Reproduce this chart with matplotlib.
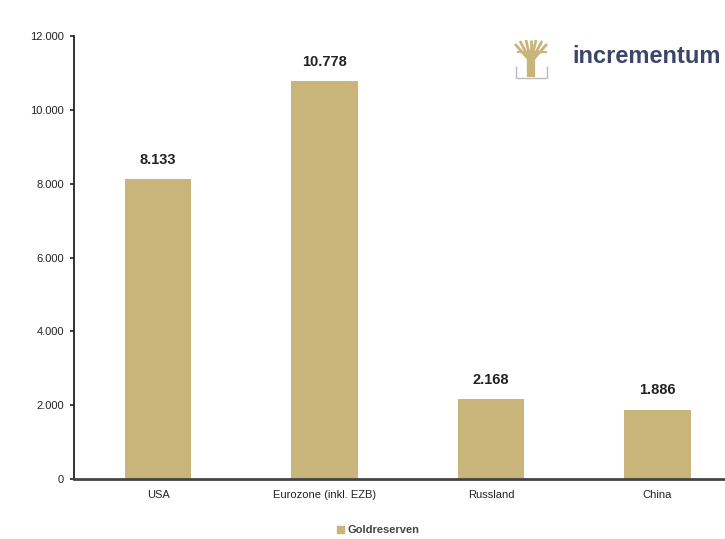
import matplotlib.pyplot as plt
from matplotlib.lines import Line2D
from matplotlib.patches import Patch
from matplotlib.ticker import FuncFormatter

# === Daten ===
laender = ['USA', 'Eurozone (inkl. EZB)', 'Russland', 'China']
goldreserven = [8133, 10778, 2168, 1886]
y_ticks = [0, 2000, 4000, 6000, 8000, 10000, 12000]

gold = '#c9b47a'
plt.rcParams['font.family'] = ['Liberation Sans', 'DejaVu Sans']

fig = plt.figure(figsize=(7.25, 5.39), dpi=100)
ax = fig.add_axes([0.102, 0.111, 0.915, 0.822])

x = range(len(laender))
ax.bar(x, goldreserven, width=0.4, color=gold)

def fmt(v):
    return f'{v:,.0f}'.replace(',', '.')

for xi, v in zip(x, goldreserven):
    ax.text(xi, v + 330, fmt(v), ha='center', va='bottom',
            fontsize=10.5, fontweight='bold', color='#222222')

ax.set_xlim(-0.505, 3.48)
ax.set_ylim(0, 12000)
ax.set_yticks(y_ticks)
ax.yaxis.set_major_formatter(FuncFormatter(lambda v, p: fmt(v)))
ax.set_xticks(list(x))
ax.set_xticklabels(laender)

for s in ['top', 'right']:
    ax.spines[s].set_visible(False)
ax.spines['left'].set_linewidth(1.3)
ax.spines['left'].set_color('#222222')
ax.spines['bottom'].set_linewidth(2)
ax.spines['bottom'].set_color('#444444')
ax.tick_params(axis='y', length=3, width=1.2, labelsize=8, colors='#222222', pad=4)
ax.tick_params(axis='x', length=0, labelsize=8, colors='#222222', pad=8)

# legenda
fig.legend(handles=[Patch(color=gold)], labels=['Goldreserven'],
           loc='center', bbox_to_anchor=(0.522, 0.016), frameon=False,
           handlelength=0.6, handleheight=0.6, handletextpad=0.3,
           prop={'size': 8, 'weight': 'bold'}, labelcolor='#444444')

# logo incrementum
fig.text(0.789, 0.895, 'incrementum', fontsize=17, fontweight='bold',
         color='#3b4668', va='center', ha='left')
W, H = 725, 539
def linha(x0, y0, x1, y1, lw=2.2, c=gold):
    fig.add_artist(Line2D([x0 / W, x1 / W], [1 - y0 / H, 1 - y1 / H],
                          color=c, lw=lw, solid_capstyle='butt'))
linha(531, 58, 531, 77, lw=6)
for (a, b) in [(515, 44), (520, 41), (526, 40), (531, 40), (536, 40), (542, 41), (547, 44)]:
    linha(531, 62, a, b, lw=2)
linha(517, 52, 547, 52, lw=1.5)
linha(516, 78, 547, 78, lw=1, c='#bbbbbb')
linha(516, 66, 516, 78, lw=1, c='#bbbbbb')
linha(547, 66, 547, 78, lw=1, c='#bbbbbb')

fig.savefig('out.png', dpi=100)
